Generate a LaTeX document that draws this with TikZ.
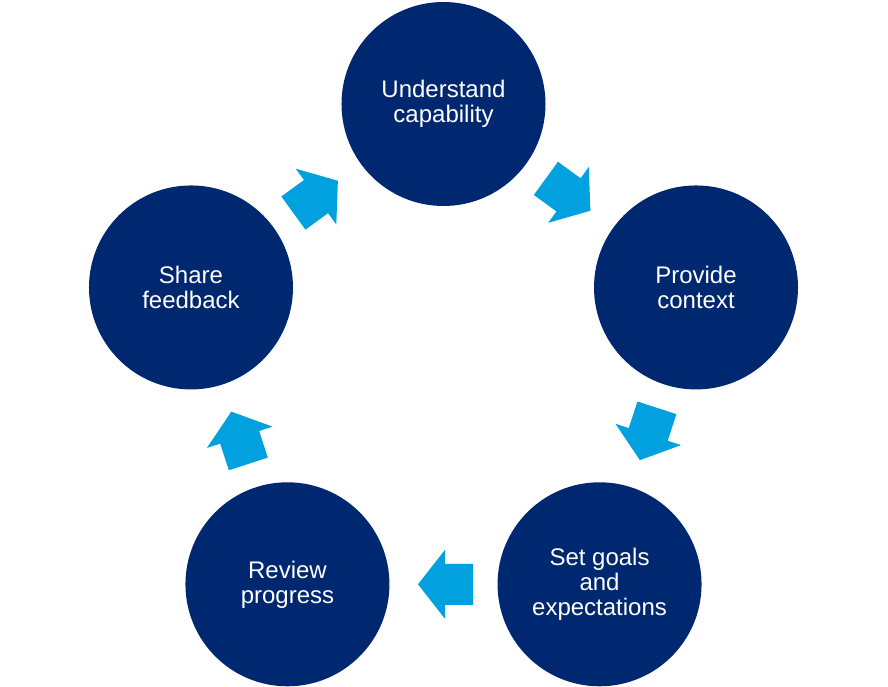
\documentclass[tikz,border=0pt]{standalone}
\usepackage{fontspec}
\setmainfont{Liberation Sans}
\usetikzlibrary{calc}
\definecolor{navy}{RGB}{0,40,112}
\definecolor{arrowblue}{RGB}{0,161,222}
\tikzset{
    stage/.style={circle, fill=navy, minimum size=204pt, inner sep=0pt,
        text=white, align=center, font=\fontsize{24}{25}\selectfont},
}
\begin{document}
\begin{tikzpicture}[x=1pt,y=1pt]
    \useasboundingbox (-443.5,-317.5) rectangle (444.5,369.5);
    \node[stage] (uc) at (90:265.5) {Understand\\capability};
    \node[stage] (pc) at (18:265.5) {Provide\\context};
    \node[stage] (sg) at (-54:265.5) {Set goals\\and\\expectations};
    \node[stage] (rp) at (-126:265.5) {Review\\progress};
    \node[stage] (sf) at (162:265.5) {Share\\feedback};
    % block arrows between neighbours
    \foreach \a/\b in {uc/pc,pc/sg,sg/rp,rp/sf,sf/uc}
        \path[fill=arrowblue] let \p1=($(\b)-(\a)$), \n1={atan2(\y1,\x1)}, \p2=($(\a)!.5!(\b)$) in
            [shift={(\p2)},rotate=\n1] (-29.5,-20.5) -- (-1.5,-20.5) -- (-1.5,-34.5) -- (25.5,0)
            -- (-1.5,34.5) -- (-1.5,20.5) -- (-29.5,20.5) -- cycle;
\end{tikzpicture}
\end{document}
